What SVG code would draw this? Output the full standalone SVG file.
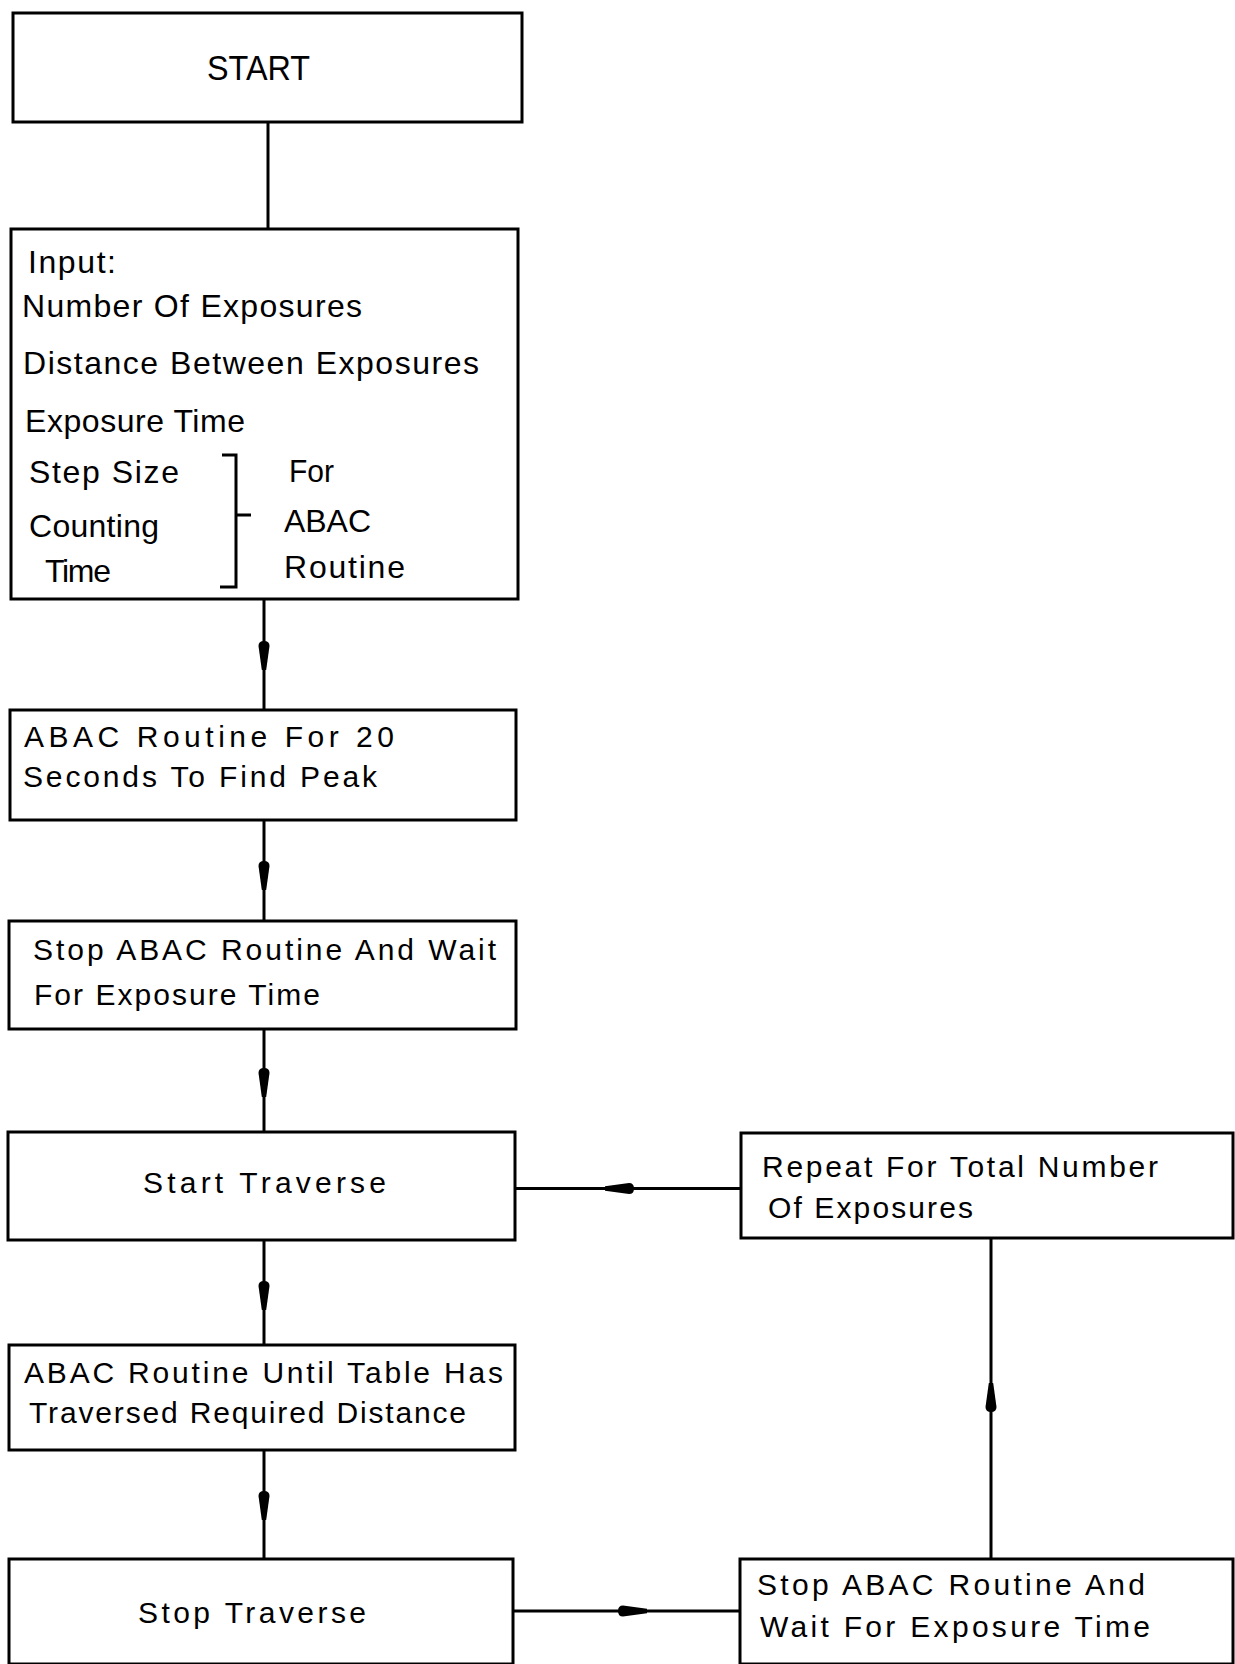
<svg xmlns="http://www.w3.org/2000/svg" xmlns:xlink="http://www.w3.org/1999/xlink" width="1235" height="1664" viewBox="0 0 1235 1664">
<style>
.box{fill:#fff;stroke:#000;stroke-width:3}
.ln{fill:none;stroke:#000;stroke-width:3}
.t{font-family:"Liberation Sans",Arial,sans-serif;font-size:30px;fill:#000}
.t32{font-size:32px}
.t35{font-size:35px}
</style>
<defs>
<path id="ah" d="M -2.2,0 L -5.5,-24 Q -5.5,-29 0,-29 Q 5.5,-29 5.5,-24 L 2.2,0 Z" fill="#000"/>
</defs>
<rect width="1235" height="1664" fill="#fff"/>
<g id="connectors">
<line class="ln" x1="268" y1="122" x2="268" y2="229"/>
<line class="ln" x1="264" y1="599" x2="264" y2="710"/>
<use xlink:href="#ah" transform="translate(264,670)"/>
<line class="ln" x1="264" y1="820" x2="264" y2="921"/>
<use xlink:href="#ah" transform="translate(264,890)"/>
<line class="ln" x1="264" y1="1029" x2="264" y2="1132"/>
<use xlink:href="#ah" transform="translate(264,1097)"/>
<line class="ln" x1="264" y1="1240" x2="264" y2="1345"/>
<use xlink:href="#ah" transform="translate(264,1310)"/>
<line class="ln" x1="264" y1="1450" x2="264" y2="1559"/>
<use xlink:href="#ah" transform="translate(264,1520)"/>
<line class="ln" x1="513" y1="1611" x2="740" y2="1611"/>
<use xlink:href="#ah" transform="translate(647,1611) rotate(-90)"/>
<line class="ln" x1="991" y1="1559" x2="991" y2="1238"/>
<use xlink:href="#ah" transform="translate(991,1383) rotate(180)"/>
<line class="ln" x1="741" y1="1188.5" x2="515" y2="1188.5"/>
<use xlink:href="#ah" transform="translate(605,1188.5) rotate(90)"/>
</g>
<g id="start">
<rect class="box" x="13" y="13" width="509" height="109"/>
<text class="t t35" x="207" y="80" textLength="103" lengthAdjust="spacingAndGlyphs">START</text>
</g>
<g id="input">
<rect class="box" x="11" y="229" width="507" height="370"/>
<text class="t t32" x="28" y="273" textLength="88" lengthAdjust="spacing">Input:</text>
<text class="t t32" x="22" y="317" textLength="340" lengthAdjust="spacing">Number Of Exposures</text>
<text class="t t32" x="23" y="374" textLength="456" lengthAdjust="spacing">Distance Between Exposures</text>
<text class="t t32" x="25" y="432" textLength="220" lengthAdjust="spacing">Exposure Time</text>
<text class="t t32" x="29" y="483" textLength="150" lengthAdjust="spacing">Step Size</text>
<text class="t t32" x="29" y="537" textLength="130" lengthAdjust="spacing">Counting</text>
<text class="t t32" x="45" y="582" textLength="66" lengthAdjust="spacing">Time</text>
<path class="ln" d="M 222,455 H 236 V 587 H 220 M 236,515 H 251" stroke-width="3.5"/>
<text class="t t32" x="289" y="482" textLength="45" lengthAdjust="spacingAndGlyphs">For</text>
<text class="t t32" x="284" y="532" textLength="87" lengthAdjust="spacing">ABAC</text>
<text class="t t32" x="284" y="578" textLength="121" lengthAdjust="spacing">Routine</text>
</g>
<g id="abac20">
<rect class="box" x="10" y="710" width="506" height="110"/>
<text class="t" x="24" y="747" textLength="370" lengthAdjust="spacing">ABAC Routine For 20</text>
<text class="t" x="23" y="787" textLength="354" lengthAdjust="spacing">Seconds To Find Peak</text>
</g>
<g id="stopabac1">
<rect class="box" x="9" y="921" width="507" height="108"/>
<text class="t" x="33" y="960" textLength="463" lengthAdjust="spacing">Stop ABAC Routine And Wait</text>
<text class="t" x="34" y="1005" textLength="286" lengthAdjust="spacing">For Exposure Time</text>
</g>
<g id="starttraverse">
<rect class="box" x="8" y="1132" width="507" height="108"/>
<text class="t" x="143" y="1193" textLength="243" lengthAdjust="spacing">Start Traverse</text>
</g>
<g id="repeat">
<rect class="box" x="741" y="1133" width="492" height="105"/>
<text class="t" x="762" y="1177" textLength="396" lengthAdjust="spacing">Repeat For Total Number</text>
<text class="t" x="768" y="1218" textLength="205" lengthAdjust="spacing">Of Exposures</text>
</g>
<g id="abacuntil">
<rect class="box" x="9" y="1345" width="506" height="105"/>
<text class="t" x="24" y="1383" textLength="479" lengthAdjust="spacing">ABAC Routine Until Table Has</text>
<text class="t" x="29" y="1423" textLength="437" lengthAdjust="spacing">Traversed Required Distance</text>
</g>
<g id="stoptraverse">
<rect class="box" x="9" y="1559" width="504" height="105"/>
<text class="t" x="138" y="1623" textLength="228" lengthAdjust="spacing">Stop Traverse</text>
</g>
<g id="stopabac2">
<rect class="box" x="740" y="1559" width="493" height="105"/>
<text class="t" x="757" y="1595" textLength="388" lengthAdjust="spacing">Stop ABAC Routine And</text>
<text class="t" x="760" y="1637" textLength="390" lengthAdjust="spacing">Wait For Exposure Time</text>
</g>
</svg>
